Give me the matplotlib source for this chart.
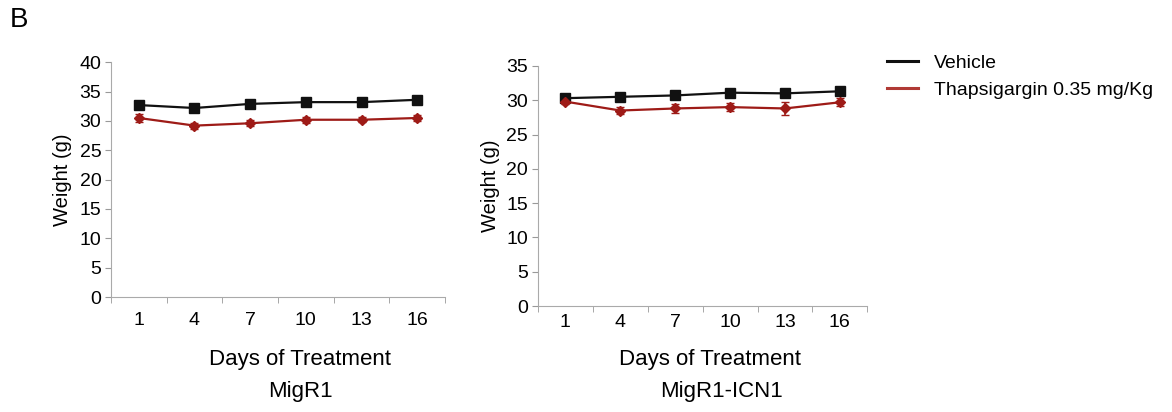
import matplotlib.pyplot as plt

plt.rcParams['font.family'] = ['Liberation Sans', 'DejaVu Sans']

days = ['1', '4', '7', '10', '13', '16']

# MigR1
migr1_vehicle = [32.7, 32.2, 32.9, 33.2, 33.2, 33.6]
migr1_vehicle_err = [0.4, 0.4, 0.4, 0.4, 0.4, 0.4]
migr1_thaps = [30.5, 29.2, 29.6, 30.2, 30.2, 30.5]
migr1_thaps_err = [0.6, 0.5, 0.5, 0.5, 0.4, 0.5]

# MigR1-ICN1
icn1_vehicle = [30.3, 30.5, 30.7, 31.1, 31.0, 31.3]
icn1_vehicle_err = [0.3, 0.3, 0.3, 0.3, 0.3, 0.3]
icn1_thaps = [29.8, 28.5, 28.8, 29.0, 28.8, 29.7]
icn1_thaps_err = [0.4, 0.5, 0.6, 0.6, 0.9, 0.6]

black = '#111111'
red = '#9e1b17'

fig = plt.figure(figsize=(11.72, 4.12), dpi=100)


def panel(rect, veh, veh_err, thp, thp_err, ymax, pad):
    ax = fig.add_axes(rect)
    x = list(range(len(days)))
    ax.errorbar(x, veh, yerr=veh_err, color=black, lw=1.6, marker='s', ms=6.5,
                capsize=3, elinewidth=1.2)
    ax.errorbar(x, thp, yerr=thp_err, color=red, lw=1.6, marker='D', ms=5.5,
                capsize=3, elinewidth=1.2)
    ax.set_xlim(-0.5, len(days) - 0.5)
    ax.set_ylim(0, ymax)
    ax.set_yticks(range(0, ymax + 1, 5))
    ax.set_xticks(x)
    ax.set_xticklabels(days)
    ax.set_xticks([i - 0.5 for i in range(len(days) + 1)], minor=True)
    ax.tick_params(axis='x', which='major', length=0, pad=pad, labelsize=14)
    ax.tick_params(axis='x', which='minor', length=4, color='#999999')
    ax.tick_params(axis='y', length=4, color='#999999', labelsize=14, pad=3)
    for s in ['top', 'right']:
        ax.spines[s].set_visible(False)
    for s in ['left', 'bottom']:
        ax.spines[s].set_color('#aaaaaa')
    ax.set_ylabel('Weight (g)', fontsize=14.5, labelpad=5)
    return ax


ax1 = panel([0.0947, 0.279, 0.285, 0.570], migr1_vehicle, migr1_vehicle_err,
            migr1_thaps, migr1_thaps_err, 40, 11)
ax2 = panel([0.459, 0.257, 0.281, 0.583], icn1_vehicle, icn1_vehicle_err,
            icn1_thaps, icn1_thaps_err, 35, 6)

fig.text(300 / 1172, 1 - 360 / 412, 'Days of Treatment', ha='center', va='center', fontsize=16)
fig.text(300 / 1172, 1 - 391 / 412, 'MigR1', ha='center', va='center', fontsize=16)
fig.text(710 / 1172, 1 - 360 / 412, 'Days of Treatment', ha='center', va='center', fontsize=16)
fig.text(722 / 1172, 1 - 391 / 412, 'MigR1-ICN1', ha='center', va='center', fontsize=16)

fig.text(10 / 1172, 1 - 20 / 412, 'B', ha='left', va='center', fontsize=20)

h1, = plt.plot([], [], color=black, lw=2.2)
h2, = plt.plot([], [], color='#b03a35', lw=2.2)
fig.legend([h1, h2], ['Vehicle', 'Thapsigargin 0.35 mg/Kg'], loc='upper left',
           bbox_to_anchor=(0.742, 0.91), frameon=False, fontsize=14,
           handlelength=1.6, handletextpad=0.8, labelspacing=0.45)

fig.savefig('out.png', dpi=100)
